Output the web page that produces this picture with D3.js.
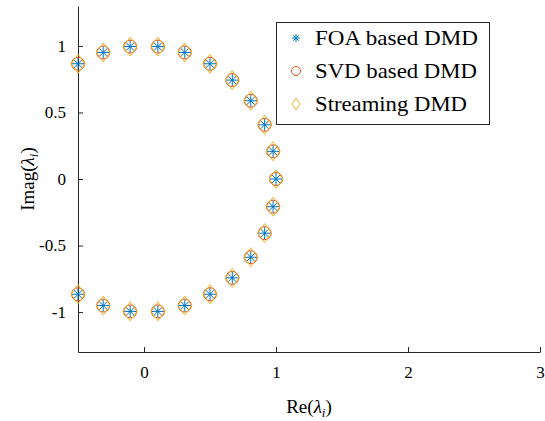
<!DOCTYPE html>
<html>
<head>
<meta charset="utf-8">
<script src="https://cdn.jsdelivr.net/npm/d3@7"></script>
<style>
  body { margin: 0; background: #fff; }
  svg { display: block; }
</style>
</head>
<body>
<script>
// eigenvalues (upper half, then the conjugates)
const reUpper = [1.0, 0.978, 0.914, 0.809, 0.669, 0.5, 0.309, 0.105, -0.105, -0.309, -0.5]
const imUpper = [0.0, 0.208, 0.407, 0.588, 0.743, 0.866, 0.951, 0.995, 0.995, 0.951, 0.866]
const reLower = [0.978, 0.914, 0.809, 0.669, 0.5, 0.309, 0.105, -0.105, -0.309, -0.5]
const imLower = [-0.208, -0.407, -0.588, -0.743, -0.866, -0.951, -0.995, -0.995, -0.951, -0.866]

const seriesNames = ['FOA based DMD', 'SVD based DMD', 'Streaming DMD']
const xTicks = [0, 1, 2, 3]
const yTicks = [-1, -0.5, 0, 0.5, 1]

const width = 545
const height = 421
const colors = ['#0072BD', '#D95319', '#EDB120']
const axisColor = '#262626'
const serif = '"Liberation Serif", "Times New Roman", serif'

const points = reUpper
  .map((re, i) => ({ re, im: imUpper[i] }))
  .concat(reLower.map((re, i) => ({ re, im: imLower[i] })))

const x = d3.scaleLinear().domain([-0.5, 3]).range([78, 540])
const y = d3.scaleLinear().domain([-1.3, 1.3]).range([352, 6])

const svg = d3
  .select('body')
  .append('svg')
  .attr('width', width)
  .attr('height', height)
  .attr('font-family', serif)

// axes, ticks inward
const xAxis = svg
  .append('g')
  .attr('transform', `translate(0,${y(-1.3)})`)
  .call(d3.axisBottom(x).tickValues(xTicks).tickSizeInner(-5).tickSizeOuter(0).tickPadding(14).tickFormat(d3.format('d')))
const yAxis = svg
  .append('g')
  .attr('transform', `translate(${x(-0.5)},0)`)
  .call(d3.axisLeft(y).tickValues(yTicks).tickSizeInner(-5).tickSizeOuter(0).tickPadding(12).tickFormat((d) => String(d)))

;[xAxis, yAxis].forEach((a) => {
  a.attr('font-family', serif).attr('font-size', 17)
  a.select('.domain').attr('stroke', axisColor).attr('stroke-width', 1)
  a.selectAll('.tick line').attr('stroke', axisColor)
  a.selectAll('.tick text')
    .style('font-family', serif)
    .style('font-size', '17px')
    .attr('fill', '#000')
})

// axis labels
const xl = svg.append('text')
  .attr('x', x(1.25))
  .attr('y', 413)
  .attr('text-anchor', 'middle')
  .style('font-family', serif)
  .style('font-size', '19px')
xl.append('tspan').text('Re(')
xl.append('tspan').style('font-style', 'italic').text('λ')
xl.append('tspan').style('font-style', 'italic').style('font-size', '13px').attr('dy', 4).text('i')
xl.append('tspan').attr('dy', -4).text(')')

const yl = svg.append('text')
  .attr('transform', `translate(34,${y(0)}) rotate(-90)`)
  .attr('text-anchor', 'middle')
  .style('font-family', serif)
  .style('font-size', '19px')
yl.append('tspan').text('Imag(')
yl.append('tspan').style('font-style', 'italic').text('λ')
yl.append('tspan').style('font-style', 'italic').style('font-size', '13px').attr('dy', 4).text('i')
yl.append('tspan').attr('dy', -4).text(')')

// marker shapes
const asterisk = (r) => {
  const d = r * Math.SQRT1_2
  return `M${-r},0L${r},0M0,${-r}L0,${r}M${-d},${-d}L${d},${d}M${-d},${d}L${d},${-d}`
}
const circle = (r) => `M${r},0A${r},${r} 0 1,1 ${-r},0A${r},${r} 0 1,1 ${r},0Z`
const diamond = (w, h) => `M0,${-h}L${w},0L0,${h}L${-w},0Z`

const markers = [asterisk(6), circle(6.5), diamond(7, 9.5)]
const legendMarkers = [asterisk(4), circle(4.5), diamond(4, 6)]

markers.forEach((m, k) => {
  svg
    .append('g')
    .selectAll('path')
    .data(points)
    .join('path')
    .attr('transform', (d) => `translate(${x(d.re)},${y(d.im)})`)
    .attr('d', m)
    .attr('fill', 'none')
    .attr('stroke', colors[k])
    .attr('stroke-width', 1)
})

// legend
const legend = svg.append('g').attr('transform', 'translate(276,22)')
legend
  .append('rect')
  .attr('x', 0.5)
  .attr('y', 0.5)
  .attr('width', 213)
  .attr('height', 102)
  .attr('fill', '#fff')
  .attr('stroke', axisColor)

const row = legend
  .selectAll('g')
  .data(seriesNames)
  .join('g')
  .attr('transform', (_, i) => `translate(0,${16 + i * 33})`)

row
  .append('path')
  .attr('transform', 'translate(20,0)')
  .attr('d', (_, i) => legendMarkers[i])
  .attr('fill', 'none')
  .attr('stroke', (_, i) => colors[i])

row
  .append('text')
  .attr('x', 39)
  .attr('y', 7)
  .style('font-family', serif)
  .style('font-size', '21px')
  .attr('textLength', (_, i) => [163, 162, 152][i])
  .attr('lengthAdjust', 'spacingAndGlyphs')
  .text((d) => d)
</script>
</body>
</html>
